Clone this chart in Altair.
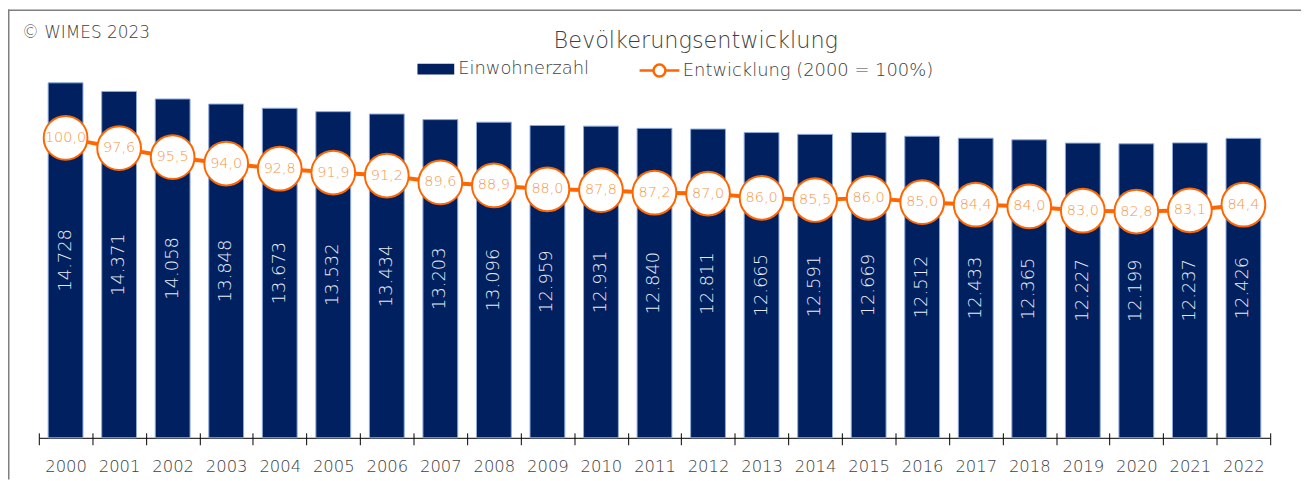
import altair as alt
import pandas as pd

years = list(range(2000, 2023))
population = [14728, 14371, 14058, 13848, 13673, 13532, 13434, 13203, 13096, 12959, 12931, 12840,
              12811, 12665, 12591, 12669, 12512, 12433, 12365, 12227, 12199, 12237, 12426]
index_pct = [100.0, 97.6, 95.5, 94.0, 92.8, 91.9, 91.2, 89.6, 88.9, 88.0, 87.8, 87.2,
             87.0, 86.0, 85.5, 86.0, 85.0, 84.4, 84.0, 83.0, 82.8, 83.1, 84.4]
bar_series = "Einwohnerzahl"
line_series = "Entwicklung (2000 = 100%)"
title_text = ["Bevölkerungsentwicklung"]
credit = ["© WIMES 2023"]

df = pd.DataFrame({"year": years, "pop": population, "idx": index_pct})
df["pop_label"] = df["pop"].map(lambda v: f"{v:,}".replace(",", "."))
df["idx_label"] = df["idx"].map(lambda v: f"{v:.1f}".replace(".", ","))
df["bar_series"] = bar_series
df["line_series"] = line_series

W, H = 1239, 388
PAD = {"left": 31, "top": 43, "right": 31, "bottom": 42}
FONT = "DejaVu Sans"
FW = 300
TXT = "#404040"
NAVY = "#002060"
ORANGE = "#FF6600"
LABEL_ORANGE = "#F79646"

x_dom = [years[0] - 0.5, years[-1] + 0.5]
tick_vals = [y - 0.5 for y in years] + [years[-1] + 0.5]
half_band = W / len(years) / 2
xs = alt.Scale(domain=x_dom, nice=False, zero=False)
ys_pop = alt.Scale(domain=[0, 16000], nice=False, zero=True)
ys_idx = alt.Scale(domain=[30, 120], nice=False, zero=False)

base = alt.Chart(df)

bars = base.transform_calculate(
    x0="datum.year - 0.325", x1="datum.year + 0.325"
).mark_bar(stroke="#8EA9DB", strokeWidth=1).encode(
    x=alt.X("x0:Q", scale=xs, axis=alt.Axis(
        values=tick_vals, orient="bottom", title=None, grid=False,
        domainColor="#000000", domainWidth=1, tickColor="#000000", tickSize=7, tickWidth=1,
        labelExpr=f"datum.value < {years[-1]} ? format(datum.value + 0.5, 'd') : ''",
        labelOffset=half_band, labelFontSize=16.5, labelFont=FONT, labelFontWeight=FW,
        labelColor=TXT, labelPadding=14, labelFlush=False, labelOverlap=False, labelBound=False)),
    x2="x1:Q",
    y=alt.Y("pop:Q", scale=ys_pop, axis=None),
    y2=alt.datum(0),
    fill=alt.Fill("bar_series:N", scale=alt.Scale(domain=[bar_series], range=[NAVY]),
                  legend=alt.Legend(orient="none", legendX=381, legendY=-1.5, title=None, padding=0,
                                    symbolType="M-1,-0.297H1V0.297H-1Z", symbolSize=1369,
                                    symbolStrokeWidth=0, labelFont=FONT, labelFontWeight=FW,
                                    labelFontSize=18, labelColor=TXT, labelOffset=4,
                                    labelLimit=400)),
)

bar_text = base.transform_calculate(half="datum.pop / 2").mark_text(
    angle=270, align="center", baseline="middle", font=FONT, fontWeight=FW, fontSize=18,
    color="#E8EBF3"
).encode(
    x=alt.X("year:Q", scale=xs, axis=None),
    y=alt.Y("half:Q", scale=ys_pop, axis=None),
    text="pop_label:N",
)

line = base.mark_line(color=ORANGE, strokeWidth=4).encode(
    x=alt.X("year:Q", scale=xs, axis=alt.Axis(
        values=tick_vals, orient="top", offset=-H, title=None, grid=False, labels=False,
        domain=False, tickColor="#000000", tickSize=5, tickWidth=1)),
    y=alt.Y("idx:Q", scale=ys_idx, axis=None),
)

points = base.mark_point(shape="circle", filled=True, fill="white", size=1936,
                         strokeWidth=2, opacity=1).encode(
    x=alt.X("year:Q", scale=xs, axis=None),
    y=alt.Y("idx:Q", scale=ys_idx, axis=None),
    stroke=alt.Stroke("line_series:N", scale=alt.Scale(domain=[line_series], range=[ORANGE]),
                      legend=alt.Legend(orient="none", legendX=603, legendY=-3, title=None, padding=0,
                                        symbolType="M-1,0H-0.3M0.3,0H1M0.3,0A0.3,0.3,0,1,1,-0.3,0A0.3,0.3,0,1,1,0.3,0Z",
                                        symbolSize=1600, symbolFillColor="white",
                                        symbolStrokeWidth=2.5, labelFont=FONT, labelFontWeight=FW,
                                        labelFontSize=18, labelColor=TXT, labelOffset=2,
                                        labelLimit=400)),
)

point_text = base.mark_text(
    align="center", baseline="middle", font=FONT, fontWeight=FW, fontSize=14.5, color=LABEL_ORANGE
).encode(
    x=alt.X("year:Q", scale=xs, axis=None),
    y=alt.Y("idx:Q", scale=ys_idx, axis=None),
    text="idx_label:N",
)

deco = alt.Chart(pd.DataFrame({"t": credit}))
frame_top = deco.mark_rule(color="#7F7F7F", strokeWidth=1.5).encode(
    x=alt.value(-PAD["left"]), x2=alt.value(W + PAD["right"]), y=alt.value(-PAD["top"] + 0.75))
frame_left = deco.mark_rule(color="#7F7F7F", strokeWidth=1.5).encode(
    x=alt.value(-PAD["left"] + 0.75), y=alt.value(-PAD["top"]), y2=alt.value(H + PAD["bottom"]))
credit_text = deco.mark_text(align="left", baseline="alphabetic", font=FONT, fontWeight=FW,
                             fontSize=17, color=TXT).encode(
    x=alt.value(-17), y=alt.value(-14), text="t:N")
title_mark = alt.Chart(pd.DataFrame({"t": title_text})).mark_text(
    align="center", baseline="alphabetic", font=FONT, fontWeight=FW, fontSize=22.5, color=TXT
).encode(x=alt.value(661), y=alt.value(-4.5), text="t:N")

chart = alt.layer(
    bars, bar_text, line, points, point_text, frame_top, frame_left, credit_text, title_mark
).resolve_scale(
    y="independent"
).resolve_axis(
    x="independent", y="independent"
).properties(
    width=W, height=H, padding=PAD, autosize=alt.AutoSizeParams(type="none"),
    background="white",
).configure_view(stroke=None)

chart.save("out.html", embed_options={"renderer": "svg", "actions": False})
